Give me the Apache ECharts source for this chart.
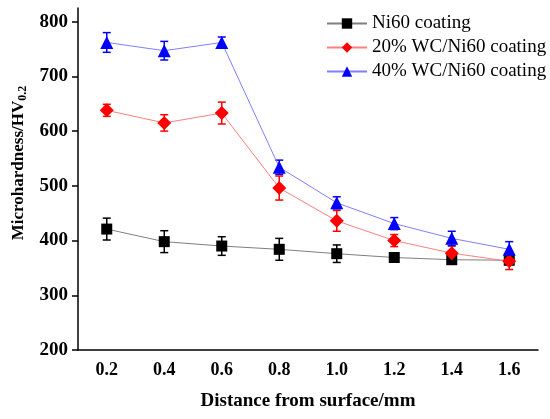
<!DOCTYPE html>
<html>
<head>
    <meta charset="UTF-8"/>
    <title>Microhardness</title>
    <style>
        html, body{
            margin: 0;
        }
    </style>
    <script src="https://cdn.jsdelivr.net/npm/echarts@6/dist/echarts.min.js"></script>
</head>
<body>
<div id="container" style="width: 550px;height: 419px;"></div>

<script>
  // distance from surface (mm)
  var distances = ['0.2', '0.4', '0.6', '0.8', '1.0', '1.2', '1.4', '1.6'];
  var yTicks = [200, 300, 400, 500, 600, 700, 800];

  // mean hardness and error (+/-) for each coating
  var ni60 = [421, 398, 390, 384, 376, 369, 365, 364];
  var ni60Err = [20, 20, 17, 20, 16, 8, 6, 8];
  var wc20 = [638, 615, 633, 496, 436, 400, 377, 362];
  var wc20Err = [11, 15, 20, 22, 19, 11, 13, 15];
  var wc40 = [762, 747, 762, 534, 469, 431, 404, 384];
  var wc40Err = [18, 17, 10, 13, 11, 11, 13, 14];

  var font = '"Liberation Serif", "Times New Roman", serif';

  function errData(vals, errs) {
      var out = [];
      for (var i = 0; i < vals.length; i++) {
          out.push([i, vals[i] + errs[i], vals[i] - errs[i]]);
      }
      return out;
  }

  function errorBar(color) {
      return function (params, api) {
          var top = api.coord([api.value(0), api.value(1)]);
          var bot = api.coord([api.value(0), api.value(2)]);
          var w = 4;
          var style = {stroke: color, lineWidth: 1.5};
          return {
              type: 'group',
              children: [
                  {type: 'line', shape: {x1: top[0], y1: top[1], x2: bot[0], y2: bot[1]}, style: style},
                  {type: 'line', shape: {x1: top[0] - w, y1: top[1], x2: top[0] + w, y2: top[1]}, style: style},
                  {type: 'line', shape: {x1: bot[0] - w, y1: bot[1], x2: bot[0] + w, y2: bot[1]}, style: style}
              ]
          };
      };
  }

  var myChart = echarts.init(document.getElementById('container'));
  var option = {
      animation: false,
      backgroundColor: '#fff',
      grid: {left: 78, right: 12, top: 8, bottom: 69},
      legend: {
          data: ['Ni60 coating', '20% WC/Ni60 coating', '40% WC/Ni60 coating'],
          orient: 'vertical',
          left: 321,
          top: 9,
          itemWidth: 40,
          itemHeight: 13,
          itemGap: 5,
          textStyle: {fontFamily: font, fontSize: 19, color: '#000'}
      },
      xAxis: {
          type: 'category',
          data: distances,
          boundaryGap: true,
          name: 'Distance from surface/mm',
          nameLocation: 'middle',
          nameGap: 42,
          nameTextStyle: {fontFamily: font, fontSize: 19, fontWeight: 'bold', color: '#000'},
          axisLine: {lineStyle: {color: '#000', width: 1.5}},
          axisTick: {alignWithLabel: true, length: 5, lineStyle: {color: '#000', width: 1.5}},
          axisLabel: {fontFamily: font, fontSize: 18, fontWeight: 'bold', color: '#000', margin: 11},
          splitLine: {show: false}
      },
      yAxis: {
          type: 'value',
          min: 200,
          max: 825,
          name: '{m|Microhardness/HV}{s|0.2}',
          nameLocation: 'middle',
          nameGap: 48,
          nameTextStyle: {
              padding: [0, 0, 0, 32],
              rich: {
                  m: {fontFamily: font, fontSize: 17, fontWeight: 'bold', color: '#000'},
                  s: {fontFamily: font, fontSize: 12, fontWeight: 'bold', color: '#000', verticalAlign: 'bottom', padding: [8, 0, 0, 0]}
              }
          },
          axisLine: {show: true, lineStyle: {color: '#000', width: 1.5}},
          axisTick: {show: true, length: 6, customValues: yTicks, lineStyle: {color: '#000', width: 1.5}},
          axisLabel: {fontFamily: font, fontSize: 19, fontWeight: 'bold', color: '#000', margin: 10, customValues: yTicks},
          splitLine: {show: false}
      },
      series: [
          {
              name: 'Ni60 coating', type: 'line', data: ni60,
              symbol: 'rect', symbolSize: 11,
              itemStyle: {color: '#000'},
              lineStyle: {color: '#7f7f7f', width: 1}
          },
          {
              name: 'Ni60 err', type: 'custom', data: errData(ni60, ni60Err),
              renderItem: errorBar('#000'), encode: {x: 0, y: [1, 2]}, z: 3
          },
          {
              name: '20% WC/Ni60 coating', type: 'line', data: wc20,
              symbol: 'diamond', symbolSize: 14,
              itemStyle: {color: '#ff0000'},
              lineStyle: {color: '#ff8080', width: 1}
          },
          {
              name: '20% err', type: 'custom', data: errData(wc20, wc20Err),
              renderItem: errorBar('#ff0000'), encode: {x: 0, y: [1, 2]}, z: 3
          },
          {
              name: '40% WC/Ni60 coating', type: 'line', data: wc40,
              symbol: 'triangle', symbolSize: 13,
              itemStyle: {color: '#0000ff'},
              lineStyle: {color: '#8080ff', width: 1}
          },
          {
              name: '40% err', type: 'custom', data: errData(wc40, wc40Err),
              renderItem: errorBar('#0000ff'), encode: {x: 0, y: [1, 2]}, z: 3
          }
      ]
  };
  myChart.setOption(option);
</script>

</body>
</html>
